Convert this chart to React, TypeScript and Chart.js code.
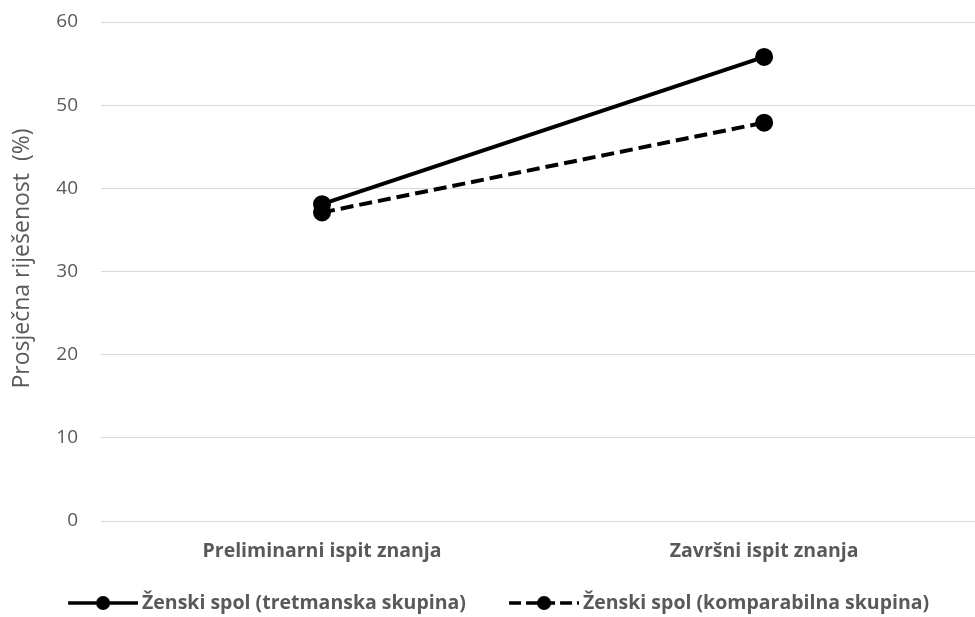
import React, { useEffect, useRef } from "react";
import { Chart, registerables } from "chart.js";

Chart.register(...registerables);

const categories = ["Preliminarni ispit znanja", "Završni ispit znanja"];
const seriesNames = ["Ženski spol (tretmanska skupina)", "Ženski spol (komparabilna skupina)"];
const treatmentValues = [38.1, 55.8];
const comparisonValues = [37.1, 47.9];
const yTicks = [0, 10, 20, 30, 40, 50, 60];
const yTitle = "Prosječna riješenost  (%)";

const TEXT = "#595959";
const FONT = "'Open Sans', 'Noto Sans', sans-serif";
const LEGEND_BOX = 97.25;

function makeLegendImage(dashed: boolean): HTMLCanvasElement {
  const c = document.createElement("canvas");
  const w = Math.round(LEGEND_BOX + 11.5);
  c.width = w;
  c.height = 18;
  const ctx = c.getContext("2d")!;
  ctx.strokeStyle = "#000";
  ctx.fillStyle = "#000";
  ctx.lineWidth = 3.5;
  if (dashed) ctx.setLineDash([12, 5]);
  ctx.beginPath();
  ctx.moveTo(w - 70, 9);
  ctx.lineTo(w, 9);
  ctx.stroke();
  ctx.setLineDash([]);
  ctx.beginPath();
  ctx.arc(w - 35, 9, 7, 0, Math.PI * 2);
  ctx.fill();
  return c;
}

const titlePlugin = {
  id: "yTitlePlugin",
  afterDraw(chart: any) {
    const { ctx, chartArea } = chart;
    ctx.save();
    ctx.translate(chartArea.left - 79, (chartArea.top + chartArea.bottom) / 2 - 13);
    ctx.rotate(-Math.PI / 2);
    ctx.font = `23px ${FONT}`;
    ctx.fillStyle = TEXT;
    ctx.textAlign = "center";
    ctx.textBaseline = "middle";
    ctx.fillText(yTitle, 0, 0);
    ctx.restore();
  },
};

export default function App() {
  const ref = useRef<HTMLCanvasElement | null>(null);
  useEffect(() => {
    if (!ref.current) return;
    const imgs = [makeLegendImage(false), makeLegendImage(true)];
    const chart = new Chart(ref.current, {
      type: "line",
      data: {
        datasets: [
          {
            label: seriesNames[0],
            data: treatmentValues.map((v, i) => ({ x: i, y: v })),
            borderColor: "#000",
            backgroundColor: "#000",
            borderWidth: 4,
            pointRadius: 7,
            pointHoverRadius: 7,
            pointStyle: "circle",
            fill: false,
            clip: false,
          },
          {
            label: seriesNames[1],
            data: comparisonValues.map((v, i) => ({ x: i, y: v })),
            borderColor: "#000",
            backgroundColor: "#000",
            borderWidth: 4,
            borderDash: [13, 6],
            pointRadius: 7,
            pointHoverRadius: 7,
            pointStyle: "circle",
            fill: false,
            clip: false,
          },
        ],
      },
      options: {
        animation: false,
        responsive: true,
        maintainAspectRatio: false,
        layout: { autoPadding: false, padding: { top: 14, left: 17, right: 0, bottom: -5.75 } },
        scales: {
          x: {
            type: "linear",
            min: -0.5,
            max: 1.477,
            grid: {
              display: true,
              drawOnChartArea: false,
              drawTicks: true,
              tickLength: 19,
              tickColor: "rgba(0,0,0,0)",
            },
            border: { display: false },
            afterBuildTicks: (scale: any) => {
              scale.ticks = categories.map((_, i) => ({ value: i }));
            },
            afterFit: (scale: any) => {
              scale.height = 62.25;
              scale.paddingLeft = 0;
              scale.paddingRight = 0;
            },
            ticks: {
              color: TEXT,
              font: { family: FONT, size: 19.5, weight: "bold" },
              padding: 0,
              autoSkip: false,
              maxRotation: 0,
              callback: (v: any) => categories[v] ?? "",
            },
          },
          y: {
            min: 0,
            max: 60,
            afterBuildTicks: (scale: any) => {
              scale.ticks = yTicks.map((v) => ({ value: v }));
            },
            afterFit: (scale: any) => {
              scale.width = 76;
            },
            grid: {
              color: "#d9d9d9",
              lineWidth: 1,
              drawTicks: true,
              tickLength: 23,
              tickColor: "rgba(0,0,0,0)",
            },
            border: { display: false },
            ticks: {
              color: TEXT,
              font: { family: FONT, size: 19 },
              padding: 0,
            },
          },
        },
        plugins: {
          tooltip: { enabled: false },
          legend: {
            position: "bottom",
            align: "start",
            labels: {
              color: TEXT,
              font: { family: FONT, size: 19.5, weight: "bold" },
              usePointStyle: true,
              pointStyleWidth: LEGEND_BOX,
              padding: 10,
              generateLabels: (ch: any) =>
                ch.data.datasets.map((ds: any, i: number) => ({
                  text: ds.label,
                  fillStyle: "#000",
                  strokeStyle: "#000",
                  lineWidth: 0,
                  pointStyle: imgs[i],
                  hidden: false,
                  datasetIndex: i,
                  fontColor: TEXT,
                })),
            },
          },
        },
      },
      plugins: [titlePlugin],
    });
    return () => chart.destroy();
  }, []);
  return (
    <div style={{ position: "fixed", left: 8, top: 8, width: 967, height: 609 }}>
      <canvas ref={ref} />
    </div>
  );
}
